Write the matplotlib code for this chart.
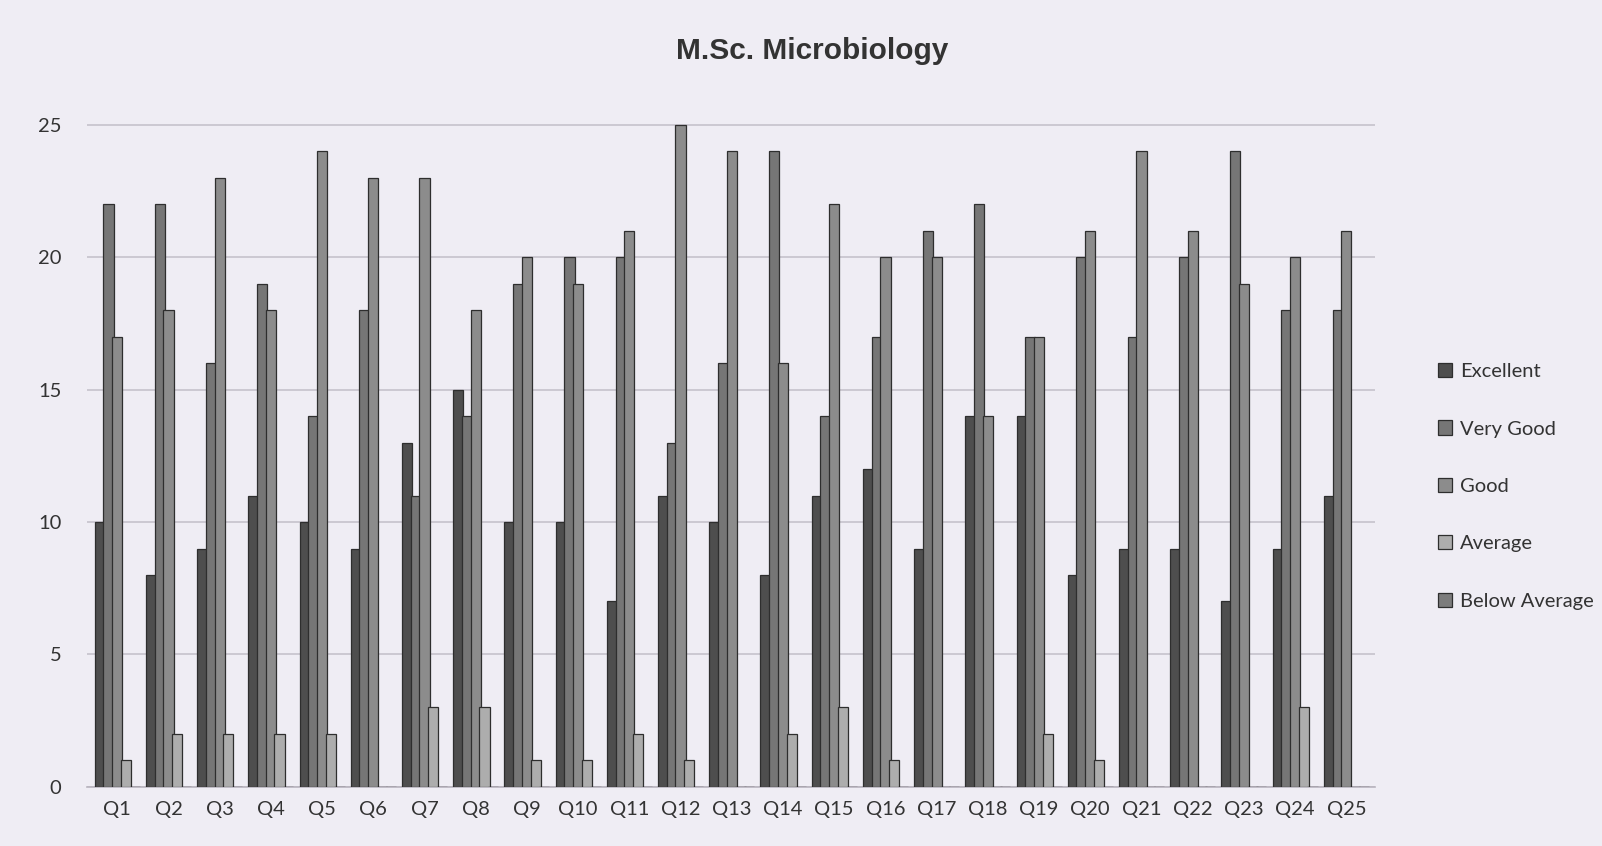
import matplotlib
matplotlib.use("Agg")
import matplotlib.pyplot as plt
import numpy as np

# data (each question sums to 50 students)
questions = ["Q%d" % i for i in range(1, 26)]
excellent = [10, 8, 9, 11, 10, 9, 13, 15, 10, 10, 7, 11, 10, 8, 11, 12, 9, 14, 14, 8, 9, 9, 7, 9, 11]
very_good = [22, 22, 16, 19, 14, 18, 11, 14, 19, 20, 20, 13, 16, 24, 14, 17, 21, 22, 17, 20, 17, 20, 24, 18, 18]
good = [17, 18, 23, 18, 24, 23, 23, 18, 20, 19, 21, 25, 24, 16, 22, 20, 20, 14, 17, 21, 24, 21, 19, 20, 21]
average = [1, 2, 2, 2, 2, 0, 3, 3, 1, 1, 2, 1, 0, 2, 3, 1, 0, 0, 2, 1, 0, 0, 0, 3, 0]
below_avg = [0] * 25

series = [("Excellent", excellent, "#4e4e4e"),
          ("Very Good", very_good, "#767676"),
          ("Good", good, "#8c8c8c"),
          ("Average", average, "#adadad"),
          ("Below Average", below_avg, "#7c7c7c")]

plt.rcParams['font.family'] = ['Lato', 'DejaVu Sans']

bg = "#efedf4"
fig = plt.figure(figsize=(16.02, 8.46), dpi=100, facecolor=bg)
ax = fig.add_axes([0.054, 0.070, 0.804, 0.798], facecolor=bg)

x = np.arange(len(questions))
w = 0.2
offsets = [-0.34, -0.17, 0.0, 0.17, 0.34]
for (name, vals, col), off in zip(series, offsets):
    ax.bar(x + off, vals, width=w, color=col, edgecolor="#2e2e2e",
           linewidth=0.9, label=name, zorder=3)

ax.set_xlim(-0.6, 24.55)
ax.set_ylim(0, 25.5)
ax.set_yticks([0, 5, 10, 15, 20, 25])
ax.set_xticks(x)
ax.set_xticklabels(questions)
ax.yaxis.grid(True, color="#c6c2cc", linewidth=1.2, zorder=0)
ax.tick_params(axis="both", length=0, labelsize=14.5, colors="#333333", pad=10)
ax.tick_params(axis="y", pad=18)
for s in ["top", "right", "left"]:
    ax.spines[s].set_visible(False)
ax.spines["bottom"].set_color("#b8b4be")
ax.spines["bottom"].set_linewidth(1.2)

fig.text(0.507, 0.94, "M.Sc. Microbiology", ha="center", va="center",
         fontsize=21.5, fontweight="bold", color="#333333",
         family="Liberation Sans")

leg = ax.legend(loc="center left", bbox_to_anchor=(1.035, 0.445), frameon=False,
                fontsize=14.5, handlelength=0.7, handleheight=0.7,
                labelspacing=2.0, handletextpad=0.4, labelcolor="#333333")

fig.savefig("out.png", dpi=100, facecolor=bg)
